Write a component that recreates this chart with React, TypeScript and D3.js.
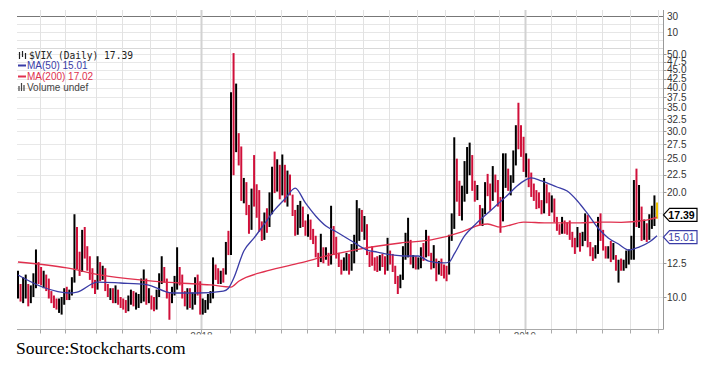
import * as d3 from "d3";

// VIX daily bars, each entry = two trading days (Jun 2017 .. May 2019)
const lows = [
  9.9, 9.7, 9.6, 9.9, 9.4, 9.6, 10.0, 10.6, 10.9, 10.8, 10.6, 10.4, 9.9, 9.6, 9.3, 9.2, 9.0, 8.9, 9.5, 9.8,
  9.8, 10.1, 11.0, 12.0, 11.5, 11.8, 12.9, 11.9, 11.2, 10.6, 10.2, 10.5, 11.1, 11.2, 10.4, 10.0, 9.8, 9.6, 9.6, 9.5,
  9.3, 9.2, 9.0, 9.1, 9.5, 9.4, 9.2, 9.3, 9.6, 9.7, 9.5, 9.6, 9.2, 9.1, 9.2, 10.0, 10.9, 11.0, 9.9, 8.6,
  9.6, 10.1, 10.5, 10.8, 9.9, 9.4, 9.2, 9.3, 9.2, 9.5, 10.1, 8.9, 8.9, 9.0, 9.2, 9.6, 9.9, 11.2, 10.9, 10.9,
  11.0, 11.6, 13.2, 13.2, 22.4, 26.1, 23.9, 18.9, 18.6, 17.2, 15.2, 15.6, 18.2, 16.9, 15.4, 14.5, 14.6, 15.3, 15.9, 17.3,
  19.9, 20.1, 19.1, 19.6, 18.7, 18.2, 19.6, 17.1, 15.0, 15.1, 15.8, 15.9, 15.0, 14.9, 14.6, 14.2, 13.0, 12.2, 12.6, 12.5,
  12.8, 12.3, 12.4, 13.2, 12.9, 12.2, 11.6, 11.9, 11.9, 11.6, 11.9, 12.5, 13.5, 14.5, 15.4, 14.6, 13.2, 12.2, 12.3, 11.9,
  11.8, 11.9, 12.2, 11.6, 11.9, 12.4, 11.8, 10.9, 10.2, 10.6, 11.2, 12.8, 13.0, 12.4, 12.1, 12.0, 12.0, 12.1, 12.7, 13.0,
  13.1, 12.0, 12.1, 11.1, 11.6, 11.5, 11.3, 11.1, 11.6, 14.5, 15.7, 18.8, 17.1, 16.6, 18.8, 19.8, 22.4, 20.2, 18.8, 19.0,
  16.1, 16.0, 17.3, 19.5, 17.7, 18.9, 20.0, 18.2, 15.3, 16.5, 20.6, 20.2, 19.6, 21.3, 23.9, 26.6, 25.3, 22.9, 22.1, 20.7,
  19.4, 18.9, 17.9, 18.0, 17.3, 17.4, 18.6, 17.1, 17.5, 16.4, 15.5, 15.1, 15.2, 15.2, 15.1, 14.6, 13.9, 13.3, 13.9, 13.5,
  14.0, 14.5, 13.9, 13.1, 12.7, 12.9, 13.3, 14.5, 13.6, 12.9, 12.9, 12.6, 12.8, 11.9, 11.0, 11.9, 11.9, 12.1, 12.4, 12.8,
  12.8, 15.9, 15.8, 14.5, 14.6, 14.4, 14.6, 15.7, 16.0, 16.8
];
const highs = [
  11.9, 10.9, 11.4, 11.6, 10.9, 10.8, 11.7, 13.7, 12.6, 12.2, 11.9, 11.6, 11.3, 10.4, 10.1, 9.9, 9.9, 10.0, 10.6, 10.7,
  10.5, 11.4, 17.3, 15.9, 13.5, 15.6, 15.9, 14.0, 13.1, 12.1, 11.2, 13.1, 12.6, 12.3, 12.1, 10.9, 10.6, 10.6, 10.8, 10.5,
  10.0, 9.9, 9.8, 10.1, 10.5, 10.4, 10.3, 10.2, 11.3, 12.0, 11.3, 10.6, 10.1, 10.0, 10.5, 11.7, 13.1, 12.2, 11.3, 10.3,
  10.7, 11.5, 13.9, 12.2, 11.6, 10.4, 10.6, 10.6, 10.3, 11.4, 11.6, 11.1, 9.9, 9.8, 10.2, 10.4, 13.0, 12.4, 12.1, 11.9,
  12.1, 14.4, 15.5, 38.8, 50.3, 41.1, 29.6, 27.1, 22.0, 21.4, 18.4, 20.5, 25.6, 21.1, 20.3, 16.5, 17.5, 18.0, 20.0, 23.7,
  26.2, 24.9, 24.0, 25.7, 24.0, 23.1, 22.5, 19.7, 17.8, 18.4, 18.9, 18.2, 16.6, 17.3, 16.7, 15.7, 15.0, 13.4, 15.2, 13.9,
  13.9, 13.4, 18.3, 16.0, 14.9, 13.4, 12.8, 13.0, 13.4, 13.3, 14.2, 15.1, 19.0, 18.0, 17.8, 17.1, 16.2, 13.5, 14.0, 13.0,
  13.1, 13.2, 13.3, 13.1, 14.8, 13.6, 13.3, 12.3, 11.5, 11.6, 14.0, 15.3, 16.9, 14.6, 13.2, 13.1, 13.0, 13.9, 14.3, 15.6,
  15.0, 13.4, 14.1, 12.9, 12.7, 12.9, 12.4, 12.3, 15.1, 17.4, 28.8, 25.0, 21.6, 20.9, 24.6, 27.0, 27.8, 25.6, 21.6, 21.0,
  18.4, 18.0, 21.4, 22.6, 21.2, 23.8, 22.5, 21.7, 19.4, 25.9, 25.9, 23.4, 22.4, 26.4, 31.2, 36.2, 31.2, 28.9, 25.9, 25.0,
  22.8, 21.2, 20.3, 20.0, 19.0, 22.0, 21.1, 20.0, 19.6, 19.2, 17.0, 16.2, 17.0, 16.6, 16.4, 16.6, 15.4, 14.8, 15.9, 15.3,
  15.4, 17.4, 17.2, 14.4, 13.9, 14.1, 17.0, 17.4, 15.6, 14.0, 14.0, 14.5, 14.3, 13.2, 12.8, 12.9, 12.8, 13.6, 13.7, 15.0,
  21.7, 23.4, 21.0, 18.2, 16.7, 16.3, 17.3, 18.3, 19.6, 18.7
];
const closes = [
  10.7, 10.2, 10.4, 11.0, 9.9, 10.3, 11.1, 11.4, 11.2, 11.1, 11.2, 10.9, 10.1, 9.8, 9.5, 9.4, 9.45, 9.6, 10.3, 10.0,
  10.1, 11.1, 15.5, 13.2, 12.1, 14.3, 13.8, 12.3, 11.3, 11.0, 10.6, 12.2, 11.5, 12.1, 10.7, 10.2, 10.3, 9.9, 10.2, 9.6,
  9.5, 9.4, 9.2, 9.9, 10.0, 9.6, 9.7, 9.9, 10.1, 11.2, 9.8, 10.2, 9.4, 9.3, 10.2, 11.5, 11.8, 11.4, 10.3, 9.7,
  10.4, 11.3, 11.4, 11.0, 10.2, 9.6, 10.2, 9.4, 9.7, 10.9, 10.3, 9.2, 9.3, 9.5, 9.8, 10.2, 11.7, 11.3, 11.1, 11.6,
  11.1, 13.8, 13.5, 37.3, 27.7, 29.1, 25.0, 19.1, 20.6, 18.7, 15.8, 19.9, 19.6, 17.2, 15.6, 14.6, 16.4, 15.8, 18.2, 23.3,
  21.0, 22.9, 20.0, 21.1, 18.9, 21.8, 20.2, 17.4, 15.2, 16.9, 18.0, 16.2, 15.9, 16.0, 14.8, 14.7, 13.2, 12.9, 13.4, 13.1,
  13.2, 12.5, 17.0, 15.4, 13.5, 12.4, 12.1, 12.4, 12.9, 12.0, 13.4, 14.6, 17.3, 17.9, 16.1, 16.2, 13.4, 12.6, 12.5, 12.2,
  12.1, 12.9, 12.4, 12.1, 14.3, 12.8, 12.2, 11.3, 10.9, 11.3, 13.2, 13.3, 14.6, 12.6, 12.9, 12.3, 12.4, 13.5, 13.2, 14.9,
  13.2, 12.1, 12.8, 11.7, 12.4, 12.1, 12.0, 11.6, 14.8, 15.9, 25.0, 21.3, 17.4, 19.9, 20.7, 24.2, 24.7, 21.2, 19.5, 19.9,
  16.7, 17.4, 20.0, 19.9, 18.1, 22.5, 21.5, 18.9, 16.4, 21.2, 22.6, 21.5, 21.6, 25.6, 30.1, 29.9, 28.3, 25.4, 25.5, 21.4,
  20.5, 19.5, 19.1, 19.0, 17.8, 20.8, 19.5, 17.4, 19.1, 16.6, 16.1, 15.6, 16.4, 16.0, 15.7, 14.9, 14.0, 13.5, 15.2, 13.6,
  14.7, 16.6, 14.3, 13.4, 12.9, 13.6, 16.5, 14.7, 13.7, 13.4, 13.6, 13.2, 13.3, 12.0, 12.2, 12.1, 12.3, 13.1, 13.2, 14.4,
  19.3, 16.0, 18.1, 15.3, 16.2, 14.8, 15.9, 17.9, 18.6, 17.39
];

// first bar of each month (Jul 2017 .. Jun 2019)
const monthStartBars = [9, 19, 31, 41, 52, 62, 72, 83, 93, 103, 113, 124, 135, 145, 156, 167, 178, 188, 198, 208, 218, 228, 239, 250];
const yearStartBars = [72, 198];
const yearLabels = ["2018", "2019"];

const ma50Bars = [0, 10, 20, 23, 31, 40, 50, 60, 70, 80, 82, 84, 88, 92, 96, 100, 104, 108, 112, 116, 120, 124, 130, 136, 140, 146, 150, 156, 160, 166, 168, 170, 174, 178, 184, 190, 196, 200, 204, 210, 214, 218, 222, 226, 230, 234, 238, 242, 246, 249];
const ma50Values = [11.57, 10.65, 10.27, 10.33, 11.04, 10.97, 10.86, 10.27, 10.27, 10.4, 10.6, 11.3, 13.56, 14.79, 16.22, 17.8, 19.14, 20.58, 18.64, 17.1, 16.0, 15.41, 14.49, 13.65, 13.47, 13.21, 13.12, 13.12, 12.69, 12.53, 12.61, 13.3, 14.98, 16.11, 17.68, 19.39, 21.29, 22.0, 21.57, 20.72, 20.17, 18.89, 17.33, 15.79, 14.79, 14.2, 13.65, 13.92, 14.39, 15.01];
const ma200Bars = [0, 19, 32, 48, 63, 75, 83, 86, 97, 110, 122, 133, 149, 161, 173, 180, 183, 188, 197, 206, 219, 227, 235, 244, 249];
const ma200Values = [12.61, 12.12, 11.57, 11.19, 10.97, 10.83, 10.68, 11.1, 11.88, 12.53, 13.21, 13.74, 14.3, 14.59, 15.39, 16.11, 16.22, 15.89, 16.43, 16.33, 16.33, 16.43, 16.4, 16.6, 16.95];

const priceTicks = [10, 12.5, 15, 17.5, 20, 22.5, 25, 27.5, 30, 32.5, 35, 37.5, 40, 42.5, 45, 47.5, 50];
const topPanelLevels = [30, 20, 10, 0];
const topPanelLabels = [30, 10];

const lastClose = 17.39;
const lastMa50 = 15.01;
const lastMa200 = 17.02;

const plotLeft = 17;
const plotRight = 663.5;
const plotBottom = 329.5;
const panelTop = 10;
const mainTop = 48.5;

const barRed = "#d0103a";
const maBlue = "#3a3ca6";
const maRed = "#e0304e";
const sans = "'Liberation Sans', Arial, sans-serif";

export default function App() {
  const x = d3.scaleLinear().domain([0, lows.length - 1]).range([18, 657]);
  const y = d3.scaleLog().domain([10, 50]).range([297, 54]);
  const yTop = d3.scaleLinear().domain([10, 30]).range([32, 16]);

  const maPath = (bars: number[], values: number[]) =>
    d3
      .line<number>()
      .x((_, i) => x(bars[i]))
      .y((v) => y(v))
      .curve(d3.curveMonotoneX)(values) ?? "";

  const last = closes.length - 1;
  const tags = [
    { v: lastClose, stroke: "#000", weight: 700 },
    { v: lastMa50, stroke: maBlue, weight: 400 }
  ];
  // tick labels hidden behind the value tags are not drawn
  const visibleTicks = priceTicks.filter((v) => tags.every((t) => Math.abs(y(v) - y(t.v)) > 6));

  return (
    <svg
      width={711}
      height={372}
      style={{ position: "absolute", left: 0, top: 0, background: "#fff" }}
    >
      <defs>
        <clipPath id="yearClip">
          <rect x={0} y={plotBottom} width={711} height={5} />
        </clipPath>
      </defs>

      {/* top panel */}
      {topPanelLevels.map((v) => (
        <line
          key={`tp${v}`}
          x1={plotLeft}
          x2={plotRight}
          y1={Math.round(yTop(v)) + 0.5}
          y2={Math.round(yTop(v)) + 0.5}
          stroke={v === 30 ? "#777" : "#e6e6e6"}
          strokeWidth={1}
        />
      ))}
      <line x1={plotLeft} x2={plotRight} y1={mainTop} y2={mainTop} stroke="#d8d8d8" />
      {topPanelLabels.map((v) => (
        <text key={`tl${v}`} x={667} y={yTop(v) + 3.5} fontFamily={sans} fontSize={10} fill="#333">
          {v}
        </text>
      ))}

      {/* price grid */}
      {priceTicks.map((v) => (
        <line
          key={`g${v}`}
          x1={plotLeft}
          x2={plotRight}
          y1={Math.round(y(v)) + 0.5}
          y2={Math.round(y(v)) + 0.5}
          stroke="#e8e8e8"
        />
      ))}
      {monthStartBars.map((b) => {
        const isYear = yearStartBars.includes(b);
        const gx = Math.round(x(b - 0.5)) + 0.5;
        return (
          <g key={`m${b}`}>
            <line
              x1={gx}
              x2={gx}
              y1={panelTop}
              y2={plotBottom}
              stroke={isYear ? "#d2d2d2" : "#e2e2e2"}
              strokeWidth={isYear ? 2 : 1}
            />
            <line x1={gx} x2={gx} y1={plotBottom} y2={plotBottom + 4} stroke="#aaa" />
          </g>
        );
      })}

      {/* axes */}
      <line x1={plotRight} x2={plotRight} y1={panelTop} y2={plotBottom} stroke="#999" />
      <line x1={plotLeft} x2={plotRight} y1={plotBottom} y2={plotBottom} stroke="#aaa" />
      {priceTicks.map((v) => (
        <line
          key={`tk${v}`}
          x1={plotRight}
          x2={plotRight + 3}
          y1={Math.round(y(v)) + 0.5}
          y2={Math.round(y(v)) + 0.5}
          stroke="#999"
        />
      ))}
      {visibleTicks.map((v) => (
        <text key={`t${v}`} x={667} y={y(v) + 3.5} fontFamily={sans} fontSize={10} fill="#333">
          {v.toFixed(1)}
        </text>
      ))}
      <g clipPath="url(#yearClip)">
        {yearStartBars.map((b, i) => (
          <text
            key={`y${b}`}
            x={x(b - 0.5)}
            y={plotBottom + 10}
            textAnchor="middle"
            fontFamily={sans}
            fontSize={10}
            fill="#555"
          >
            {yearLabels[i]}
          </text>
        ))}
      </g>

      {/* price bars */}
      {closes.map((c, i) => {
        const up = i === 0 || c >= closes[i - 1];
        const color = i === last ? "#f2c500" : up ? "#000" : barRed;
        return (
          <line
            key={`b${i}`}
            x1={x(i)}
            x2={x(i)}
            y1={y(lows[i])}
            y2={y(highs[i])}
            stroke={color}
            strokeWidth={2}
          />
        );
      })}

      {/* moving averages */}
      <path d={maPath(ma200Bars, ma200Values)} fill="none" stroke={maRed} strokeWidth={1.3} />
      <path d={maPath(ma50Bars, ma50Values)} fill="none" stroke={maBlue} strokeWidth={1.3} />

      {/* value tags */}
      {tags.map((tag) => {
        const cy = y(tag.v) + 1.5;
        const d = `M${plotRight},${cy} L${plotRight + 6},${cy - 6.5} H697 V${cy + 6.5} H${plotRight + 6} Z`;
        return (
          <g key={`tag${tag.v}`}>
            <path d={d} fill="#fff" stroke={tag.stroke} strokeWidth={1.2} />
            <text
              x={681.5}
              y={cy + 4}
              textAnchor="middle"
              fontFamily={sans}
              fontSize={10.5}
              fontWeight={tag.weight}
              fill={tag.stroke}
            >
              {tag.v.toFixed(2)}
            </text>
          </g>
        );
      })}

      {/* legend */}
      <g>
        <line x1={19.5} x2={19.5} y1={52} y2={59} stroke="#222" strokeWidth={1.2} />
        <line x1={22.5} x2={22.5} y1={51} y2={57} stroke="#222" strokeWidth={1.2} />
        <line x1={25.5} x2={25.5} y1={53} y2={59} stroke="#222" strokeWidth={1.2} />
        <text x={29} y={59} fontFamily="'DejaVu Sans Mono', monospace" fontSize={9.6} fill="#222">
          {`$VIX (Daily) ${lastClose.toFixed(2)}`}
        </text>
        <line x1={18} x2={26} y1={65.5} y2={65.5} stroke={maBlue} strokeWidth={2} />
        <text x={27} y={69} fontFamily={sans} fontSize={10} fill={maBlue}>
          {`MA(50) ${lastMa50.toFixed(2)}`}
        </text>
        <line x1={18} x2={26} y1={76.5} y2={76.5} stroke={maRed} strokeWidth={2} />
        <text x={27} y={80} fontFamily={sans} fontSize={10} fill={maRed}>
          {`MA(200) ${lastMa200.toFixed(2)}`}
        </text>
        <line x1={19} x2={19} y1={86} y2={91} stroke="#444" strokeWidth={1.2} />
        <line x1={21.5} x2={21.5} y1={83} y2={91} stroke="#444" strokeWidth={1.2} />
        <line x1={24} x2={24} y1={85} y2={91} stroke="#444" strokeWidth={1.2} />
        <text x={27} y={91} fontFamily={sans} fontSize={10} fill="#444">
          Volume undef
        </text>
      </g>

      <text x={16} y={354} fontFamily="'Liberation Serif', 'Times New Roman', serif" fontSize={17.5} fill="#000">
        Source:Stockcharts.com
      </text>
    </svg>
  );
}
